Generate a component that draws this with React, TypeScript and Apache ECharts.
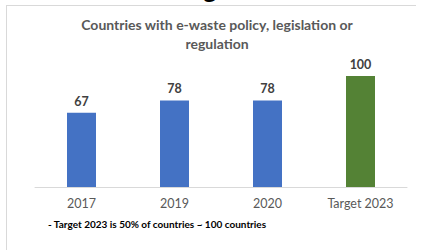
import React, { useEffect, useRef } from "react";
import * as echarts from "echarts";

const categories = ["2017", "2019", "2020", "Target 2023"];
const values = [67, 78, 78, 100];
const barColors = ["#4472C4", "#4472C4", "#4472C4", "#548235"];
const titleLines = ["Countries with e-waste policy, legislation or", "regulation"];
const footnote = "- Target 2023 is 50% of countries ~ 100 countries";

export default function App() {
  const ref = useRef<HTMLDivElement>(null);
  useEffect(() => {
    if (!ref.current) return;
    const chart = echarts.init(ref.current, null, { renderer: "svg" });
    const font = "Lato, 'Open Sans', sans-serif";
    const titleStyle = {
      fontFamily: font,
      fontSize: 14,
      fontWeight: "bold",
      fill: "#595959",
      align: "center",
      verticalAlign: "middle",
    };
    chart.setOption({
      animation: false,
      backgroundColor: "#ffffff",
      grid: { left: 35, right: 19, top: 76, bottom: 63 },
      xAxis: {
        type: "category",
        data: categories,
        axisLine: { lineStyle: { color: "#d9d9d9", width: 1 } },
        axisTick: { show: false },
        axisLabel: { color: "#595959", fontFamily: font, fontSize: 12.5, margin: 10 },
      },
      yAxis: { type: "value", min: 0, max: 100, show: false, splitLine: { show: false } },
      series: [
        {
          type: "bar",
          barWidth: 29,
          data: values.map((v, i) => ({ value: v, itemStyle: { color: barColors[i] } })),
          label: {
            show: true,
            position: "top",
            distance: 5,
            color: "#404040",
            fontFamily: font,
            fontSize: 12.5,
            fontWeight: "bold",
          },
        },
      ],
      graphic: [
        { type: "line", shape: { x1: 6, y1: 5.5, x2: 416, y2: 5.5 }, style: { stroke: "#d9d9d9", lineWidth: 1 } },
        { type: "line", shape: { x1: 6.5, y1: 5, x2: 6.5, y2: 250 }, style: { stroke: "#d9d9d9", lineWidth: 1 } },
        {
          type: "text",
          x: 203,
          y: -25,
          style: { text: "g", fontFamily: font, fontSize: 26, fontWeight: "bold", fill: "#000000" },
        },
        { type: "text", x: 217, y: 24, style: { ...titleStyle, text: titleLines[0] } },
        { type: "text", x: 217, y: 43, style: { ...titleStyle, text: titleLines[1] } },
        {
          type: "text",
          x: 48,
          y: 224,
          style: {
            text: footnote,
            fontFamily: font,
            fontSize: 10,
            fontWeight: "bold",
            fill: "#000000",
            verticalAlign: "middle",
          },
        },
      ],
    });
    return () => chart.dispose();
  }, []);
  return <div ref={ref} style={{ position: "fixed", left: 0, top: 0, width: 426, height: 250 }} />;
}
